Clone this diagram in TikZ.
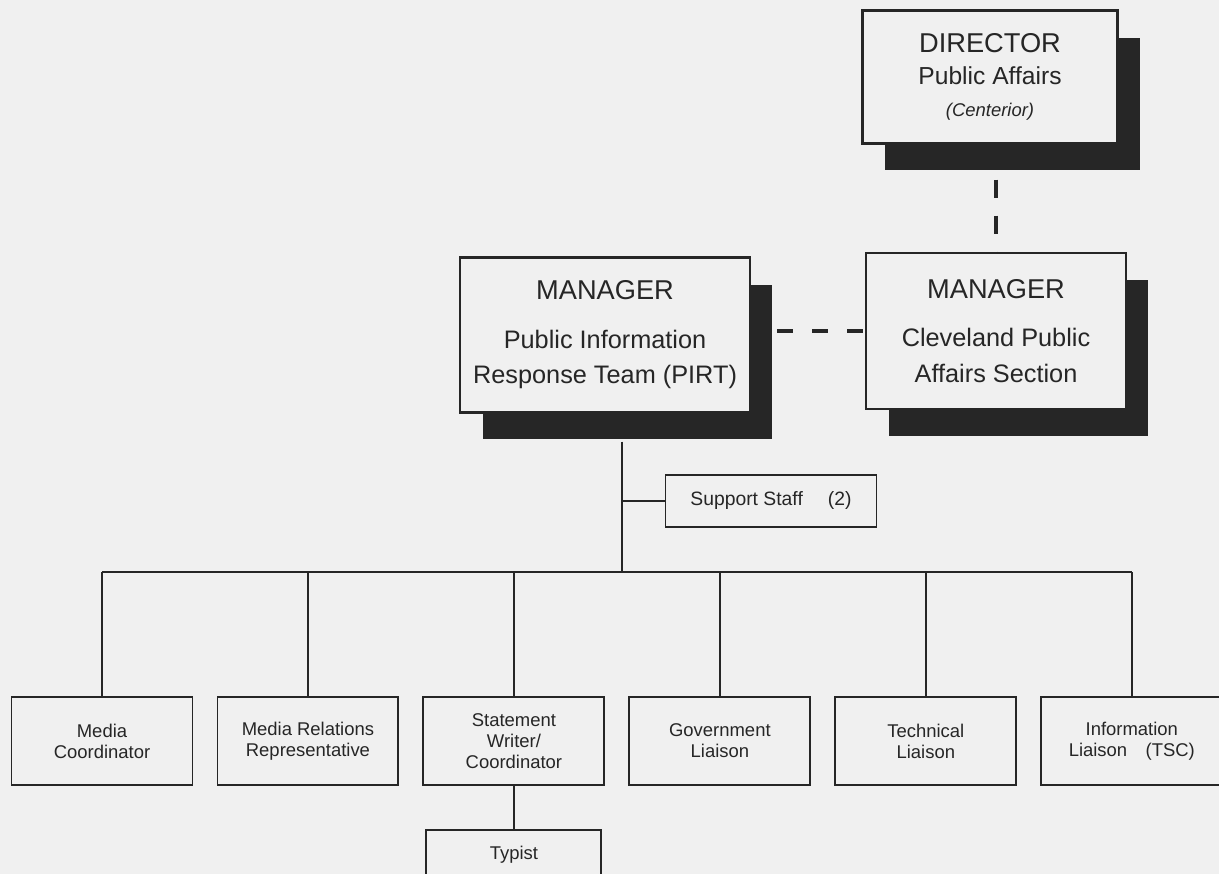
\documentclass[tikz,border=0pt]{standalone}
\usepackage{fontspec}
\setmainfont{Liberation Sans}
\usetikzlibrary{positioning,shadows}
\definecolor{paper}{gray}{0.94}
\definecolor{ink}{gray}{0.15}

\begin{document}
\begin{tikzpicture}[x=0.02cm,y=-0.02cm,line width=1.1pt,color=ink,node distance=4.12cm,
		box/.style={rectangle,draw=ink,fill=paper,align=center,inner sep=0pt},
		head box/.style={box,line width=1.4pt,font=\fontsize{14.4}{20.4}\selectfont,
			drop shadow={shadow xshift=0.45cm,shadow yshift=-0.54cm,fill=black!85,opacity=1}},
		staff box/.style={box,minimum width=3.62cm,minimum height=1.76cm,font=\fontsize{10.5}{12}\selectfont},
		link/.style={line width=2.8pt,dash pattern=on 0.36cm off 0.36cm}]
		
		\useasboundingbox (0,0) rectangle (1219,874);
		\fill[paper] (0,0) rectangle (1219,874);
		
		% top of the chart
		\node[head box,minimum width=5.1cm,minimum height=2.66cm,font=\fontsize{14}{18}\selectfont] (dir) at (990,77)
			{{\fontsize{15.5}{18}\selectfont DIRECTOR}\\Public Affairs\\{\fontsize{10.5}{12}\selectfont\itshape (Centerior)}};
		\node[head box,minimum width=5.8cm,minimum height=3.1cm] (mgr) at (605,335)
			{{\fontsize{15.5}{18}\selectfont MANAGER}\\[7pt]Public Information\\Response Team (PIRT)};
		\node[head box,minimum width=5.2cm,minimum height=3.12cm] (cpa) at (996,331)
			{{\fontsize{15.5}{18}\selectfont MANAGER}\\[7pt]Cleveland Public\\Affairs Section};
		\node[box,minimum width=4.22cm,minimum height=1.04cm,font=\fontsize{11}{13}\selectfont] (staff) at (771,501)
			{Support Staff\hspace{1.3em}(2)};
		
		% staff row
		\node[staff box] (mc) at (102,741) {Media\\Coordinator};
		\node[staff box,right of=mc] (mrr) {Media Relations\\Representative};
		\node[staff box,right of=mrr] (sw) {Statement\\Writer/\\Coordinator};
		\node[staff box,right of=sw] (gl) {Government\\Liaison};
		\node[staff box,right of=gl] (tl) {Technical\\Liaison};
		\node[staff box,right of=tl] (il) {Information\\Liaison\hspace{1em}(TSC)};
		\node[staff box,below of=sw,node distance=2.28cm,minimum width=3.5cm,minimum height=1cm] (typ) {Typist};
		
		\coordinate (dirfoot) at ([yshift=-0.52cm]dir.south);
		\coordinate (mgrside) at ([xshift=0.46cm]mgr.east);
		\coordinate (top) at ([shift={(17,28)}]mgr.south);
		\coordinate (bus) at (622,572);
		
		\draw[link,dash phase=0.54cm] (cpa.north |- dirfoot) -- (cpa.north);
		\draw[link,dash pattern=on 0.32cm off 0.38cm,dash phase=0.64cm] (cpa.west -| mgrside) -- (cpa.west);
		\draw (top) -- (bus);
		\draw[line width=0.8pt] (staff.west -| top) -- (staff.west);
		\draw (mc.north |- bus) -- (il.north |- bus);
		\foreach \n in {mc,mrr,sw,gl,tl,il}
			\draw (\n.north) -- (\n.north |- bus);
		\draw (sw.south) -- (typ.north);
		
\end{tikzpicture}
\end{document}
